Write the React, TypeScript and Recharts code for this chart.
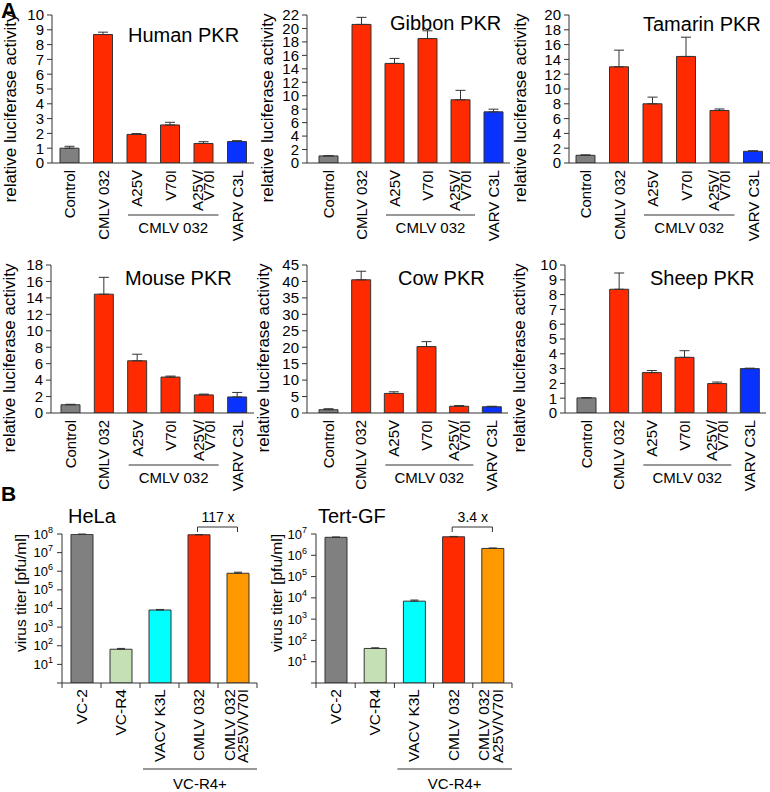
import React from 'react';
import { BarChart, Bar, XAxis, YAxis, ErrorBar, Cell } from 'recharts';

const FONT = '"Liberation Sans", Arial, sans-serif';
const EDGE = '#333333';
const GRAY = '#808080';
const RED = '#ff2a00';
const BLUE = '#0a32ff';
const GREEN = '#c5e0b4';
const CYAN = '#00ffff';
const ORANGE = '#ff9900';

// panel A: luciferase assay
const pkrNames = ['Control', 'CMLV 032', 'A25V', 'V70I', 'A25V/\nV70I', 'VARV C3L'];
const pkrColors = [GRAY, RED, RED, RED, RED, BLUE];

const humanMean = [1.0, 8.68, 1.93, 2.57, 1.32, 1.45];
const humanSd = [0.13, 0.16, 0.06, 0.18, 0.12, 0.06];
const humanTicks = [0, 1, 2, 3, 4, 5, 6, 7, 8, 9, 10];

const gibbonMean = [1.05, 20.6, 14.8, 18.5, 9.4, 7.6];
const gibbonSd = [0.03, 1.05, 0.75, 1.15, 1.4, 0.4];
const gibbonTicks = [0, 2, 4, 6, 8, 10, 12, 14, 16, 18, 20, 22];

const tamarinMean = [1.04, 13.0, 8.0, 14.4, 7.1, 1.58];
const tamarinSd = [0.06, 2.25, 0.9, 2.6, 0.2, 0.08];
const tamarinTicks = [0, 2, 4, 6, 8, 10, 12, 14, 16, 18, 20];

const mouseMean = [1.0, 14.45, 6.35, 4.37, 2.2, 1.95];
const mouseSd = [0.06, 2.05, 0.8, 0.12, 0.1, 0.55];
const mouseTicks = [0, 2, 4, 6, 8, 10, 12, 14, 16, 18];

const cowMean = [1.0, 40.5, 5.95, 20.2, 2.05, 1.9];
const cowSd = [0.3, 2.6, 0.5, 1.5, 0.2, 0.15];
const cowTicks = [0, 5, 10, 15, 20, 25, 30, 35, 40, 45];

const sheepMean = [1.02, 8.36, 2.73, 3.76, 1.99, 3.0];
const sheepSd = [0.02, 1.1, 0.14, 0.45, 0.1, 0.03];
const sheepTicks = [0, 1, 2, 3, 4, 5, 6, 7, 8, 9, 10];

// panel B: virus titers
const titerNames = ['VC-2', 'VC-R4', 'VACV K3L', 'CMLV 032', 'CMLV 032\nA25V/V70I'];
const titerColors = [GRAY, GREEN, CYAN, RED, ORANGE];

const helaMean = [9.5e7, 65, 8300, 9.1e7, 7.8e5];
const helaSd = [4e6, 7, 600, 3e6, 1.1e5];
const helaTicks = [1, 1e1, 1e2, 1e3, 1e4, 1e5, 1e6, 1e7, 1e8];

const tertMean = [7.0e6, 42, 7000, 7.4e6, 2.1e6];
const tertSd = [2e5, 3, 900, 3e5, 1e5];
const tertTicks = [1, 1e1, 1e2, 1e3, 1e4, 1e5, 1e6, 1e7];

const pkrPanels = [
  { title: 'Human PKR', mean: humanMean, sd: humanSd, ticks: humanTicks, left: 0, top: 0, axisX: 52, endX: 254, pad: 1, titleX: 128, titleY: 42, labelX: 11 },
  { title: 'Gibbon PKR', mean: gibbonMean, sd: gibbonSd, ticks: gibbonTicks, left: 255, top: 0, axisX: 307, endX: 510, pad: 5, titleX: 390, titleY: 30, labelX: 268 },
  { title: 'Tamarin PKR', mean: tamarinMean, sd: tamarinSd, ticks: tamarinTicks, left: 512, top: 0, axisX: 569, endX: 770, pad: 0, titleX: 643, titleY: 31, labelX: 521 },
  { title: 'Mouse PKR', mean: mouseMean, sd: mouseSd, ticks: mouseTicks, left: 0, top: 250, axisX: 51, endX: 254, pad: 3, titleX: 125, titleY: 285, labelX: 10 },
  { title: 'Cow PKR', mean: cowMean, sd: cowSd, ticks: cowTicks, left: 255, top: 250, axisX: 307, endX: 508, pad: 5, titleX: 398, titleY: 285, labelX: 264 },
  { title: 'Sheep PKR', mean: sheepMean, sd: sheepSd, ticks: sheepTicks, left: 512, top: 250, axisX: 565, endX: 766, pad: 5, titleX: 650, titleY: 285, labelX: 520 },
];

const titerPanels = [
  { title: 'HeLa', fold: '117 x', mean: helaMean, sd: helaSd, ticks: helaTicks, left: 0, top: 520, axisX: 62, endX: 257, titleX: 68, labelX: 21 },
  { title: 'Tert-GF', fold: '3.4 x', mean: tertMean, sd: tertSd, ticks: tertTicks, left: 255, top: 520, axisX: 316, endX: 512, titleX: 318, labelX: 277 },
];

const A_TOP = 15;
const A_PLOT = 148;
const B_TOP = 14;
const B_PLOT = 149;

function CatTick(props: any) {
  const { x, y, payload, size, gap, two, band, last, index } = props;
  const lines = String(payload.value).split('\n');
  const offs = lines.length === 1 ? [5.3] : two;
  return (
    <g transform={`translate(${x},${y})`}>
      {band ? <line x1={-band / 2} x2={-band / 2} y1={0} y2={5} stroke={EDGE} /> : null}
      {band && index === last ? <line x1={band / 2} x2={band / 2} y1={0} y2={5} stroke={EDGE} /> : null}
      <text transform="rotate(-90)" textAnchor="end" fontSize={size} fontFamily={FONT} fill="#000">
        {lines.map((l: string, i: number) => (
          <tspan key={i} x={-gap} y={offs[i]}>{l}</tspan>
        ))}
      </text>
    </g>
  );
}

function PowTick(props: any) {
  const { x, y, payload } = props;
  const exp = Math.round(Math.log10(payload.value));
  if (exp === 0) return <g />;
  return (
    <text x={x} y={y} dy={4.5} textAnchor="end" fontSize={13} fontFamily={FONT} fill="#000">
      10<tspan dy={-6} fontSize={9}>{exp}</tspan>
    </text>
  );
}

function PkrChart({ p }: { p: any }) {
  const data = pkrNames.map((name, i) => ({ name, value: p.mean[i], err: [0, p.sd[i]] }));
  const h = 270;
  return (
    <div style={{ position: 'absolute', left: p.left, top: p.top }}>
      <BarChart width={p.endX - p.left} height={h} data={data} margin={{ top: A_TOP, right: 0, bottom: 0, left: 0 }}>
        <XAxis
          dataKey="name"
          height={h - A_TOP - A_PLOT}
          interval={0}
          tickLine={false}
          tickSize={0}
          tickMargin={0}
          axisLine={{ stroke: EDGE }}
          padding={{ left: p.pad, right: 0 }}
          tick={(t: any) => <CatTick {...t} size={15} gap={7} two={[-0.3, 10.5]} />}
        />
        <YAxis
          type="number"
          width={p.axisX - p.left}
          domain={[0, p.ticks[p.ticks.length - 1]]}
          ticks={p.ticks}
          interval={0}
          allowDataOverflow
          tickSize={5}
          tickMargin={3}
          axisLine={{ stroke: EDGE }}
          tickLine={{ stroke: EDGE }}
          tick={{ fontSize: 15, fill: '#000', fontFamily: FONT }}
        />
        <Bar dataKey="value" barSize={19} stroke={EDGE} strokeWidth={1} isAnimationActive={false}>
          {data.map((d, i) => (
            <Cell key={d.name} fill={pkrColors[i]} />
          ))}
          <ErrorBar dataKey="err" width={5} stroke={EDGE} strokeWidth={1} isAnimationActive={false} />
        </Bar>
      </BarChart>
    </div>
  );
}

function TiterChart({ p }: { p: any }) {
  const data = titerNames.map((name, i) => ({ name, value: p.mean[i], err: [0, p.sd[i]] }));
  const h = 272;
  const band = (p.endX - p.axisX) / titerNames.length;
  return (
    <div style={{ position: 'absolute', left: p.left, top: p.top }}>
      <BarChart width={p.endX - p.left + 2} height={h} data={data} margin={{ top: B_TOP, right: 2, bottom: 0, left: 0 }}>
        <XAxis
          dataKey="name"
          height={h - B_TOP - B_PLOT}
          interval={0}
          tickLine={false}
          tickSize={0}
          tickMargin={0}
          axisLine={{ stroke: EDGE }}
          tick={(t: any) => (
            <CatTick {...t} size={15.5} gap={6} two={[-3, 10.5]} band={band} last={titerNames.length - 1} />
          )}
        />
        <YAxis
          type="number"
          scale="log"
          width={p.axisX - p.left}
          domain={[p.ticks[0], p.ticks[p.ticks.length - 1]]}
          ticks={p.ticks}
          interval={0}
          allowDataOverflow
          tickSize={5}
          tickMargin={4}
          axisLine={{ stroke: EDGE }}
          tickLine={{ stroke: EDGE }}
          tick={(t: any) => <PowTick {...t} />}
        />
        <Bar dataKey="value" barSize={22} stroke={EDGE} strokeWidth={1} isAnimationActive={false}>
          {data.map((d, i) => (
            <Cell key={d.name} fill={titerColors[i]} />
          ))}
          <ErrorBar dataKey="err" width={4} stroke={EDGE} strokeWidth={1} isAnimationActive={false} />
        </Bar>
      </BarChart>
    </div>
  );
}

export default function App() {
  return (
    <div style={{ position: 'absolute', left: 0, top: 0, width: 770, height: 792, background: '#fff', fontFamily: FONT, overflow: 'hidden' }}>
      {pkrPanels.map((p) => (
        <PkrChart key={p.title} p={p} />
      ))}
      {titerPanels.map((p) => (
        <TiterChart key={p.title} p={p} />
      ))}
      <svg width={770} height={792} style={{ position: 'absolute', left: 0, top: 0, pointerEvents: 'none' }} fontFamily={FONT}>
        <text x={1} y={18} fontSize={22} fontWeight="bold">A</text>
        <text x={1} y={501} fontSize={21} fontWeight="bold">B</text>
        {pkrPanels.map((p) => {
          const axisY = p.top + A_TOP + A_PLOT;
          const band = (p.endX - p.axisX - p.pad) / pkrNames.length;
          const x1 = p.axisX + p.pad + 2 * band + 8;
          const x2 = p.axisX + p.pad + 5 * band - 2;
          const cy = p.top + 108;
          return (
            <g key={p.title}>
              <text x={p.titleX} y={p.titleY} fontSize={20}>{p.title}</text>
              <text transform={`translate(${p.labelX + 5},${cy}) rotate(-90)`} textAnchor="middle" fontSize={17}>
                relative luciferase activity
              </text>
              <line x1={x1} x2={x2} y1={axisY + 52} y2={axisY + 52} stroke={EDGE} strokeWidth={1.2} />
              <text x={(x1 + x2) / 2} y={axisY + 70} textAnchor="middle" fontSize={15}>CMLV 032</text>
            </g>
          );
        })}
        {titerPanels.map((p) => {
          const axisY = p.top + B_TOP + B_PLOT;
          const band = (p.endX - p.axisX) / titerNames.length;
          const c3 = p.axisX + 3.5 * band;
          const c4 = p.axisX + 4.5 * band;
          const x1 = p.axisX + 2 * band + 3;
          return (
            <g key={p.title}>
              <text x={p.titleX} y={523} fontSize={20}>{p.title}</text>
              <text transform={`translate(${p.labelX + 5},593) rotate(-90)`} textAnchor="middle" fontSize={15.5}>
                virus titer [pfu/ml]
              </text>
              <path d={`M${c3 - 1},532 V527 H${c4} V532`} fill="none" stroke={EDGE} strokeWidth={1} />
              <text x={(c3 + c4) / 2} y={522} textAnchor="middle" fontSize={14}>{p.fold}</text>
              <line x1={x1} x2={p.endX} y1={axisY + 86} y2={axisY + 86} stroke={EDGE} strokeWidth={1.2} />
              <text x={(x1 + p.endX) / 2} y={axisY + 106} textAnchor="middle" fontSize={15}>VC-R4+</text>
            </g>
          );
        })}
      </svg>
    </div>
  );
}
